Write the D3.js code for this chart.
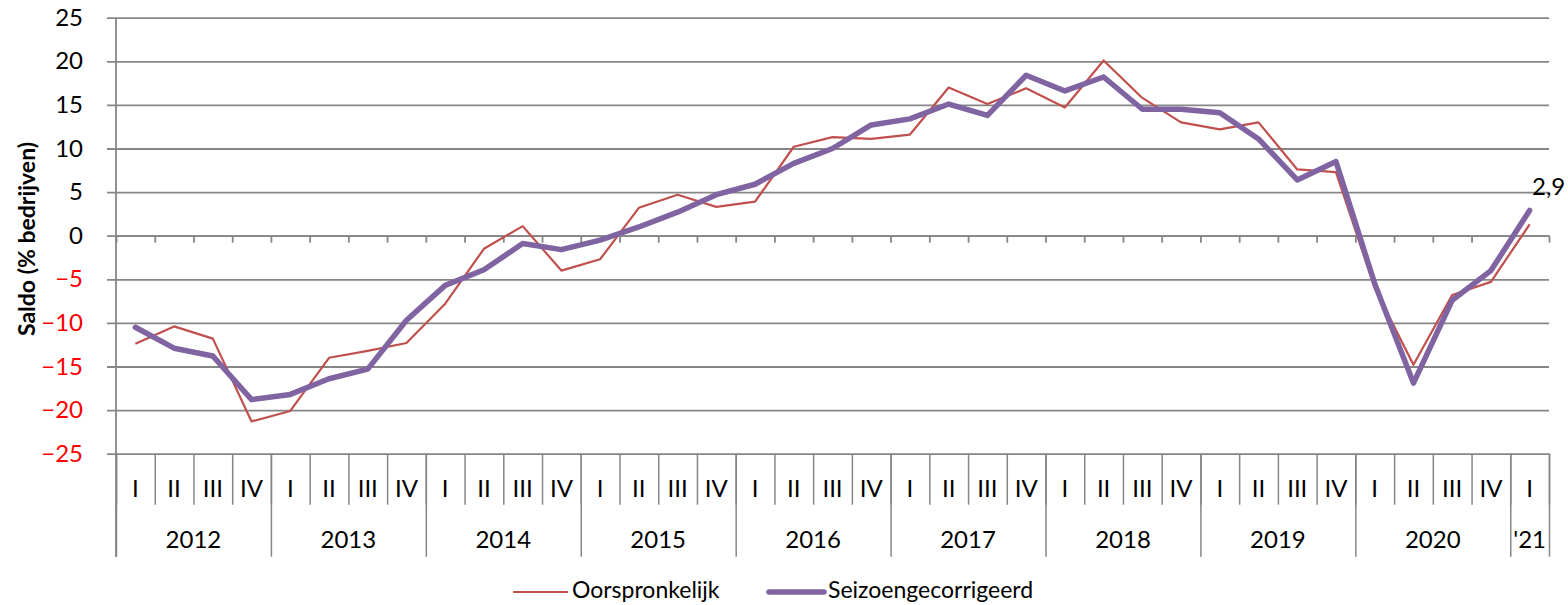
<!DOCTYPE html>
<html>
<head>
<meta charset="utf-8">
<script src="https://cdn.jsdelivr.net/npm/d3@7"></script>
<style>
  body { margin: 0; background: #fff; }
  svg { display: block; font-family: Lato, "Open Sans", sans-serif; }
</style>
</head>
<body>
<svg id="chart" width="1568" height="605"></svg>
<script>
// quarters 2012 I .. 2021 I
const quarters = ["I","II","III","IV","I","II","III","IV","I","II","III","IV","I","II","III","IV",
  "I","II","III","IV","I","II","III","IV","I","II","III","IV","I","II","III","IV","I","II","III","IV","I"];
const years = ["2012","2013","2014","2015","2016","2017","2018","2019","2020","'21"];

// Oorspronkelijk
const orig = [-12.4, -10.4, -11.8, -21.3, -20.1, -14.0, -13.2, -12.3, -7.8, -1.5, 1.1, -4.0,
  -2.7, 3.2, 4.7, 3.3, 3.9, 10.2, 11.3, 11.1, 11.6, 17.0, 15.1, 16.9, 14.7, 20.1, 15.8, 13.0,
  12.2, 13.0, 7.6, 7.3, -6.0, -14.8, -6.8, -5.3, 1.3];
// Seizoengecorrigeerd
const seas = [-10.5, -12.9, -13.8, -18.8, -18.2, -16.4, -15.3, -9.7, -5.7, -3.9, -0.9, -1.6,
  -0.5, 1.0, 2.7, 4.7, 5.9, 8.3, 10.0, 12.7, 13.4, 15.1, 13.8, 18.4, 16.6, 18.2, 14.5, 14.5,
  14.1, 11.1, 6.4, 8.5, -5.5, -16.9, -7.4, -4.0, 2.9];
const yTicks = [-25, -20, -15, -10, -5, 0, 5, 10, 15, 20, 25];

const svg = d3.select("#chart");
const plotLeft = 116, plotRight = 1549, plotTop = 17.7, plotBottom = 453.7;
const gridColor = "#868686";
const fs = "24px";

const y = d3.scaleLinear().domain([-25, 25]).range([plotBottom, plotTop]);
const xb = d3.scaleLinear().domain([0, quarters.length]).range([plotLeft, plotRight]); // grenzen
const xc = i => xb(i + 0.5);

// Gridlines + y labels
const yAxis = svg.append("g")
  .attr("transform", "translate(107,0)")
  .call(d3.axisLeft(y).tickValues(yTicks).tickSizeInner(-(plotRight - 107)).tickSizeOuter(0).tickPadding(24));
yAxis.select(".domain").remove();
yAxis.selectAll(".tick line").attr("stroke", gridColor).attr("stroke-width", 1.8);
yAxis.selectAll(".tick text")
  .style("font-size", fs)
  .style("font-family", "Lato, sans-serif")
  .attr("fill", d => d < 0 ? "#ff0000" : "#000");

// y as
svg.append("line")
  .attr("x1", plotLeft).attr("x2", plotLeft).attr("y1", plotTop).attr("y2", 557)
  .attr("stroke", gridColor).attr("stroke-width", 1.8);

// nul-as met ticks
const zeroAxis = svg.append("g")
  .attr("transform", `translate(0,${y(0)})`)
  .call(d3.axisBottom(xb).tickValues(d3.range(quarters.length + 1)).tickSize(7).tickSizeOuter(0).tickFormat(""));
zeroAxis.selectAll("path, line").attr("stroke", gridColor).attr("stroke-width", 1.8);

// kwartaal scheidingen
const qAxis = svg.append("g")
  .attr("transform", `translate(0,${plotBottom})`)
  .call(d3.axisBottom(xb).tickValues(d3.range(quarters.length + 1)).tickSize(51).tickSizeOuter(0).tickFormat(""));
qAxis.select(".domain").remove();
qAxis.selectAll("line").attr("stroke", gridColor).attr("stroke-width", 1.5);

// jaar scheidingen
const yearBounds = [0, 4, 8, 12, 16, 20, 24, 28, 32, 36, 37];
const yrAxis = svg.append("g")
  .attr("transform", `translate(0,${plotBottom})`)
  .call(d3.axisBottom(xb).tickValues(yearBounds).tickSize(103).tickSizeOuter(0).tickFormat(""));
yrAxis.select(".domain").remove();
yrAxis.selectAll("line").attr("stroke", gridColor).attr("stroke-width", 1.5);

// kwartaal labels
svg.append("g").selectAll("text")
  .data(quarters)
  .join("text")
  .attr("x", (d, i) => xc(i))
  .attr("y", 497)
  .attr("text-anchor", "middle")
  .style("font-size", fs)
  .text(d => d);

// jaar labels
svg.append("g").selectAll("text")
  .data(years)
  .join("text")
  .attr("x", (d, i) => (xb(yearBounds[i]) + xb(yearBounds[i + 1])) / 2)
  .attr("y", 548)
  .attr("text-anchor", "middle")
  .style("font-size", fs)
  .text(d => d);

// y titel
svg.append("text")
  .attr("transform", "translate(35,239) rotate(-90)")
  .attr("text-anchor", "middle")
  .style("font-size", "23px")
  .style("font-weight", "bold")
  .text("Saldo (% bedrijven)");

// lijnen
const line = d3.line().x((d, i) => xc(i)).y(d => y(d));
svg.append("path")
  .datum(orig)
  .attr("d", line)
  .attr("fill", "none")
  .attr("stroke", "#C0504D")
  .attr("stroke-width", 2.2)
  .attr("stroke-linejoin", "round");
svg.append("path")
  .datum(seas)
  .attr("d", line)
  .attr("fill", "none")
  .attr("stroke", "#8064A2")
  .attr("stroke-width", 5.5)
  .attr("stroke-linejoin", "round")
  .attr("stroke-linecap", "round");

// label laatste punt
const last = seas.length - 1;
svg.append("text")
  .attr("x", xc(last) + 19)
  .attr("y", y(seas[last]) - 15)
  .attr("text-anchor", "middle")
  .style("font-size", fs)
  .text(String(seas[last]).replace(".", ","));

// legenda
const legend = [
  { name: "Oorspronkelijk", color: "#C0504D", w: 2.2, x: 513 },
  { name: "Seizoengecorrigeerd", color: "#8064A2", w: 5.5, x: 769 }
];
const lg = svg.append("g").selectAll("g").data(legend).join("g");
lg.append("line")
  .attr("x1", d => d.x).attr("x2", d => d.x + 55)
  .attr("y1", 592).attr("y2", 592)
  .attr("stroke", d => d.color)
  .attr("stroke-width", d => d.w)
  .attr("stroke-linecap", d => d.w > 3 ? "round" : "butt");
lg.append("text")
  .attr("x", d => d.x + 59)
  .attr("y", 598)
  .style("font-size", "23px")
  .text(d => d.name);
</script>
</body>
</html>
